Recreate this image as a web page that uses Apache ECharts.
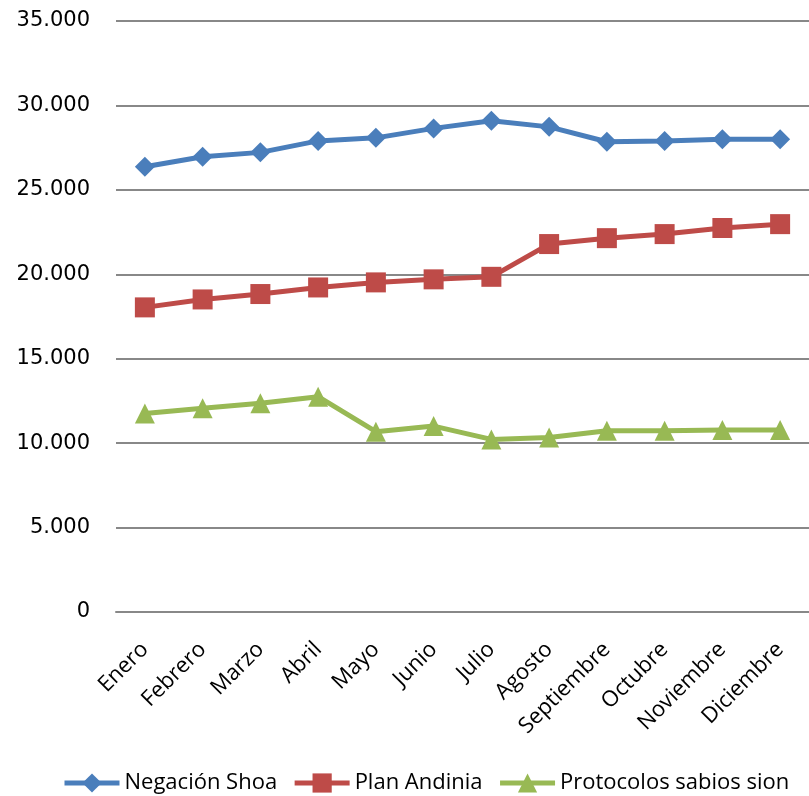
<!DOCTYPE html>
<html>
<head>
<meta charset="utf-8">
<script src="https://cdn.jsdelivr.net/npm/echarts@6/dist/echarts.min.js"></script>
<style>
html,body{margin:0;padding:0;background:#fff;}
#chart{width:809px;height:796px;}
</style>
</head>
<body>
<div id="chart"></div>
<script>
const categories = ['Enero','Febrero','Marzo','Abril','Mayo','Junio','Julio','Agosto','Septiembre','Octubre','Noviembre','Diciembre'];
const seriesNames = ['Negación Shoa','Plan Andinia','Protocolos sabios sion'];
const negacionShoa = [26370, 26960, 27220, 27900, 28080, 28640, 29090, 28730, 27850, 27890, 27990, 28000];
const planAndinia = [18040, 18510, 18830, 19220, 19520, 19700, 19850, 21790, 22140, 22380, 22740, 22970];
const protocolos = [11760, 12060, 12360, 12750, 10680, 11010, 10220, 10340, 10730, 10730, 10780, 10780];
const yTicks = [0, 5000, 10000, 15000, 20000, 25000, 30000, 35000];

function fmt(v){
  if (v === 0) return '0';
  const s = String(Math.round(v));
  return s.replace(/\B(?=(\d{3})+(?!\d))/g, '.');
}

const chart = echarts.init(document.getElementById('chart'), null, {renderer:'canvas'});
const colors = ['#4A7EBB', '#BE4B48', '#98B954'];
const symbols = ['diamond', 'rect', 'triangle'];
const datasets = [negacionShoa, planAndinia, protocolos];

chart.setOption({
  animation: false,
  color: colors,
  grid: {left: 116, right: -8, top: 21, bottom: 184, containLabel: false},
  legend: {
    data: seriesNames,
    left: 57,
    top: 767,
    itemWidth: 55,
    itemHeight: 24,
    itemGap: 15,
    lineStyle: {width: 5},
    textStyle: {fontFamily: 'Open Sans', fontSize: 22, color: '#000'}
  },
  xAxis: {
    type: 'category',
    data: categories,
    boundaryGap: true,
    axisLine: {show: true, lineStyle: {color: '#888', width: 2}},
    axisTick: {show: false},
    axisLabel: {
      rotate: 45,
      interval: 0,
      margin: 34,
      fontFamily: 'Open Sans',
      fontSize: 22,
      color: '#000'
    }
  },
  yAxis: {
    type: 'value',
    min: yTicks[0],
    max: yTicks[yTicks.length - 1],
    interval: 5000,
    axisLine: {show: false},
    axisTick: {show: false},
    splitLine: {lineStyle: {color: '#888', width: 2}},
    axisLabel: {
      margin: 26,
      fontFamily: 'DejaVu Sans',
      fontSize: 21,
      color: '#000',
      formatter: fmt
    }
  },
  series: seriesNames.map((name, i) => ({
    name: name,
    type: 'line',
    data: datasets[i],
    symbol: symbols[i],
    symbolSize: 20,
    lineStyle: {width: 5, color: colors[i]},
    itemStyle: {color: colors[i]}
  }))
});
</script>
</body>
</html>
